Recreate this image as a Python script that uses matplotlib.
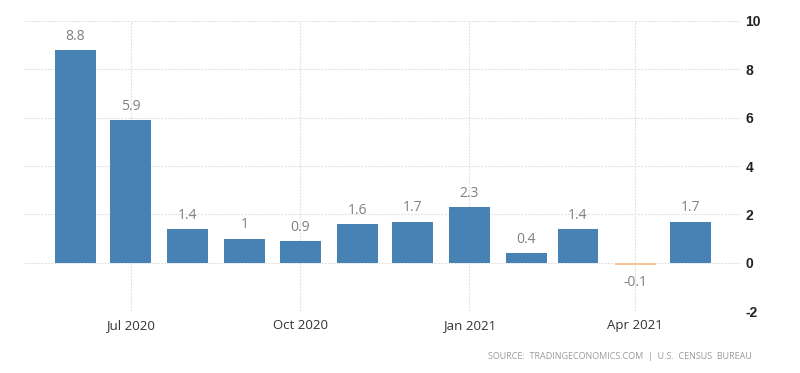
import datetime as dt
import matplotlib
matplotlib.use("Agg")
import matplotlib.pyplot as plt
import matplotlib.dates as mdates

plt.rcParams["axes.unicode_minus"] = False

months = ["2020-06", "2020-07", "2020-08", "2020-09", "2020-10", "2020-11",
          "2020-12", "2021-01", "2021-02", "2021-03", "2021-04", "2021-05"]
values = [8.8, 5.9, 1.4, 1, 0.9, 1.6, 1.7, 2.3, 0.4, 1.4, -0.1, 1.7]
labels = ["8.8", "5.9", "1.4", "1", "0.9", "1.6", "1.7", "2.3", "0.4", "1.4", "-0.1", "1.7"]
quarter_ticks = ["2020-07", "2020-10", "2021-01", "2021-04"]
yticks = [-2, 0, 2, 4, 6, 8, 10]

dates = [dt.datetime.strptime(m, "%Y-%m") for m in months]
qdates = [dt.datetime.strptime(m, "%Y-%m") for m in quarter_ticks]
colors = ["#4682b4" if v >= 0 else "#f7c58f" for v in values]

fig = plt.figure(figsize=(8, 3.73), dpi=100)
ax = fig.add_axes([0.03, 0.1662, 0.895, 0.7775])

x = mdates.date2num(dates)
ax.bar(x, values, width=22.2, color=colors, zorder=3)

for xi, v, t in zip(x, values, labels):
    if v >= 0:
        ax.annotate(t, (xi, v), xytext=(0, 4.5), textcoords="offset points",
                    ha="center", va="bottom", fontsize=10, color="#808080",
                    family="Open Sans")
    else:
        ax.annotate(t, (xi, v), xytext=(0, -7), textcoords="offset points",
                    ha="center", va="top", fontsize=10, color="#808080",
                    family="Open Sans")

ax.set_ylim(-2, 10)
ax.set_yticks(yticks)
ax.set_xlim(mdates.date2num(dt.datetime(2020, 5, 4)), mdates.date2num(dt.datetime(2021, 5, 28)))
ax.set_xticks(mdates.date2num(qdates))
ax.xaxis.set_major_formatter(mdates.DateFormatter("%b %Y"))

ax.yaxis.tick_right()
ax.tick_params(axis="y", length=0, pad=4, labelsize=10, labelcolor="#222222")
ax.tick_params(axis="x", length=0, pad=6, labelsize=9.5, labelcolor="#333333")
for lbl in ax.get_yticklabels():
    lbl.set_family("Liberation Sans")
    lbl.set_fontweight("bold")
for lbl in ax.get_xticklabels():
    lbl.set_family("Open Sans")

ax.grid(True, axis="both", color="#e3e3e3", linewidth=0.8, linestyle=(0, (2, 1)), zorder=0)
for s in ax.spines.values():
    s.set_visible(False)

fig.text(0.94, 0.045, "SOURCE:  TRADINGECONOMICS.COM  |  U.S.  CENSUS  BUREAU",
         ha="right", va="center", fontsize=6.5, color="#9a9a9a", family="Open Sans")

fig.savefig("out.png", dpi=100)
